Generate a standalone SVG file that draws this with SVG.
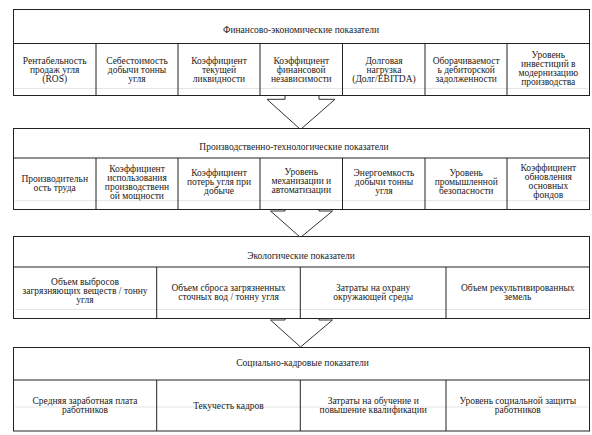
<svg xmlns="http://www.w3.org/2000/svg" width="592" height="435" viewBox="0 0 592 435">
<style>
text{font-family:"Liberation Serif","Times New Roman",serif;font-size:9.5px;fill:#222;text-anchor:middle}
.box{fill:#fff;stroke:#222;stroke-width:1}
.ln{stroke:#222;stroke-width:1;fill:none}
.gr{stroke:#e4e4e4;stroke-width:1}
.arr{fill:#fff;stroke:#333;stroke-width:1}
</style>
<rect width="592" height="435" fill="#fff"/>
<g id="connectors">
<path class="arr" d="M285,85 V99.3 H267 L300.5,129.5 L335,99.3 H319 V85 Z"/>
<path class="arr" d="M285,200 V211 H270.5 L300.5,237.5 L332.5,211 H319 V200 Z"/>
<path class="arr" d="M285,310 V320 H270.5 L300.5,347 L332.5,320 H319 V310 Z"/>
</g>
<g id="finance">
<rect class="box" x="13.5" y="9.5" width="576" height="86"/>
<line class="gr" x1="15" y1="88.5" x2="588" y2="88.5"/>
<path class="ln" d="M13.5,43.5 H589.5 M96,43.5 V95.5 M178,43.5 V95.5 M260,43.5 V95.5 M342.5,43.5 V95.5 M425,43.5 V95.5 M507,43.5 V95.5"/>
<text x="301" y="33">Финансово-экономические показатели</text>
<text x="54.7" y="64">Рентабельность</text><text x="54.7" y="73">продаж угля</text><text x="54.7" y="82">(ROS)</text>
<text x="137" y="64">Себестоимость</text><text x="137" y="73">добычи тонны</text><text x="137" y="82">угля</text>
<text x="219" y="64">Коэффициент</text><text x="219" y="73">текущей</text><text x="219" y="82">ликвидности</text>
<text x="301.3" y="64">Коэффициент</text><text x="301.3" y="73">финансовой</text><text x="301.3" y="82">независимости</text>
<text x="384" y="64">Долговая</text><text x="384" y="73">нагрузка</text><text x="384" y="82">(Долг/EBITDA)</text>
<text x="466.2" y="64">Оборачиваемост</text><text x="466.2" y="73">ь дебиторской</text><text x="466.2" y="82">задолженности</text>
<text x="548.3" y="58">Уровень</text><text x="548.3" y="67">инвестиций в</text><text x="548.3" y="76">модернизацию</text><text x="548.3" y="85">производства</text>
</g>
<g id="production">
<rect class="box" x="13.5" y="128.5" width="576" height="81"/>
<line class="gr" x1="15" y1="200.7" x2="588" y2="200.7"/>
<path class="ln" d="M13.5,158 H589.5 M96,158 V209.5 M178,158 V209.5 M260,158 V209.5 M342.5,158 V209.5 M425,158 V209.5 M507,158 V209.5"/>
<text x="294" y="149.7">Производственно-технологические показатели</text>
<text x="54.7" y="181.5">Производительн</text><text x="54.7" y="190.5">ость труда</text>
<text x="137" y="171.5">Коэффициент</text><text x="137" y="180.5">использования</text><text x="137" y="189.5">производственн</text><text x="137" y="198.5">ой мощности</text>
<text x="219" y="176.3">Коэффициент</text><text x="219" y="185.3">потерь угля при</text><text x="219" y="194.3">добыче</text>
<text x="301.3" y="175">Уровень</text><text x="301.3" y="184">механизации и</text><text x="301.3" y="193">автоматизации</text>
<text x="384" y="176">Энергоемкость</text><text x="384" y="185">добычи тонны</text><text x="384" y="194">угля</text>
<text x="466.2" y="176">Уровень</text><text x="466.2" y="185">промышленной</text><text x="466.2" y="194">безопасности</text>
<text x="548.3" y="171">Коэффициент</text><text x="548.3" y="180">обновления</text><text x="548.3" y="189">основных</text><text x="548.3" y="198">фондов</text>
</g>
<g id="ecology">
<rect class="box" x="13.5" y="236.5" width="576" height="82"/>
<line class="gr" x1="15" y1="309.5" x2="588" y2="309.5"/>
<path class="ln" d="M13.5,267 H589.5 M156.7,267 V318.5 M300.3,267 V318.5 M446,267 V318.5"/>
<text x="301" y="259">Экологические показатели</text>
<text x="85" y="284.7">Объем выбросов</text><text x="85" y="293.7">загрязняющих веществ / тонну</text><text x="85" y="302.7">угля</text>
<text x="228.5" y="290.7">Объем сброса загрязненных</text><text x="228.5" y="299.7">сточных вод / тонну угля</text>
<text x="373.2" y="291">Затраты на охрану</text><text x="373.2" y="300">окружающей среды</text>
<text x="517.8" y="290.7">Объем рекультивированных</text><text x="517.8" y="299.7">земель</text>
</g>
<g id="social">
<rect class="box" x="13.5" y="347.5" width="576" height="83.5"/>
<line class="gr" x1="15" y1="407" x2="588" y2="407"/>
<path class="ln" d="M13.5,380 H589.5 M156.7,380 V431 M300.3,380 V431 M446,380 V431"/>
<text x="302.5" y="366.3">Социально-кадровые показатели</text>
<text x="85" y="404">Средняя заработная плата</text><text x="85" y="413">работников</text>
<text x="228.5" y="409">Текучесть кадров</text>
<text x="373.2" y="404">Затраты на обучение и</text><text x="373.2" y="413">повышение квалификации</text>
<text x="517.8" y="404">Уровень социальной защиты</text><text x="517.8" y="413">работников</text>
</g>
</svg>
